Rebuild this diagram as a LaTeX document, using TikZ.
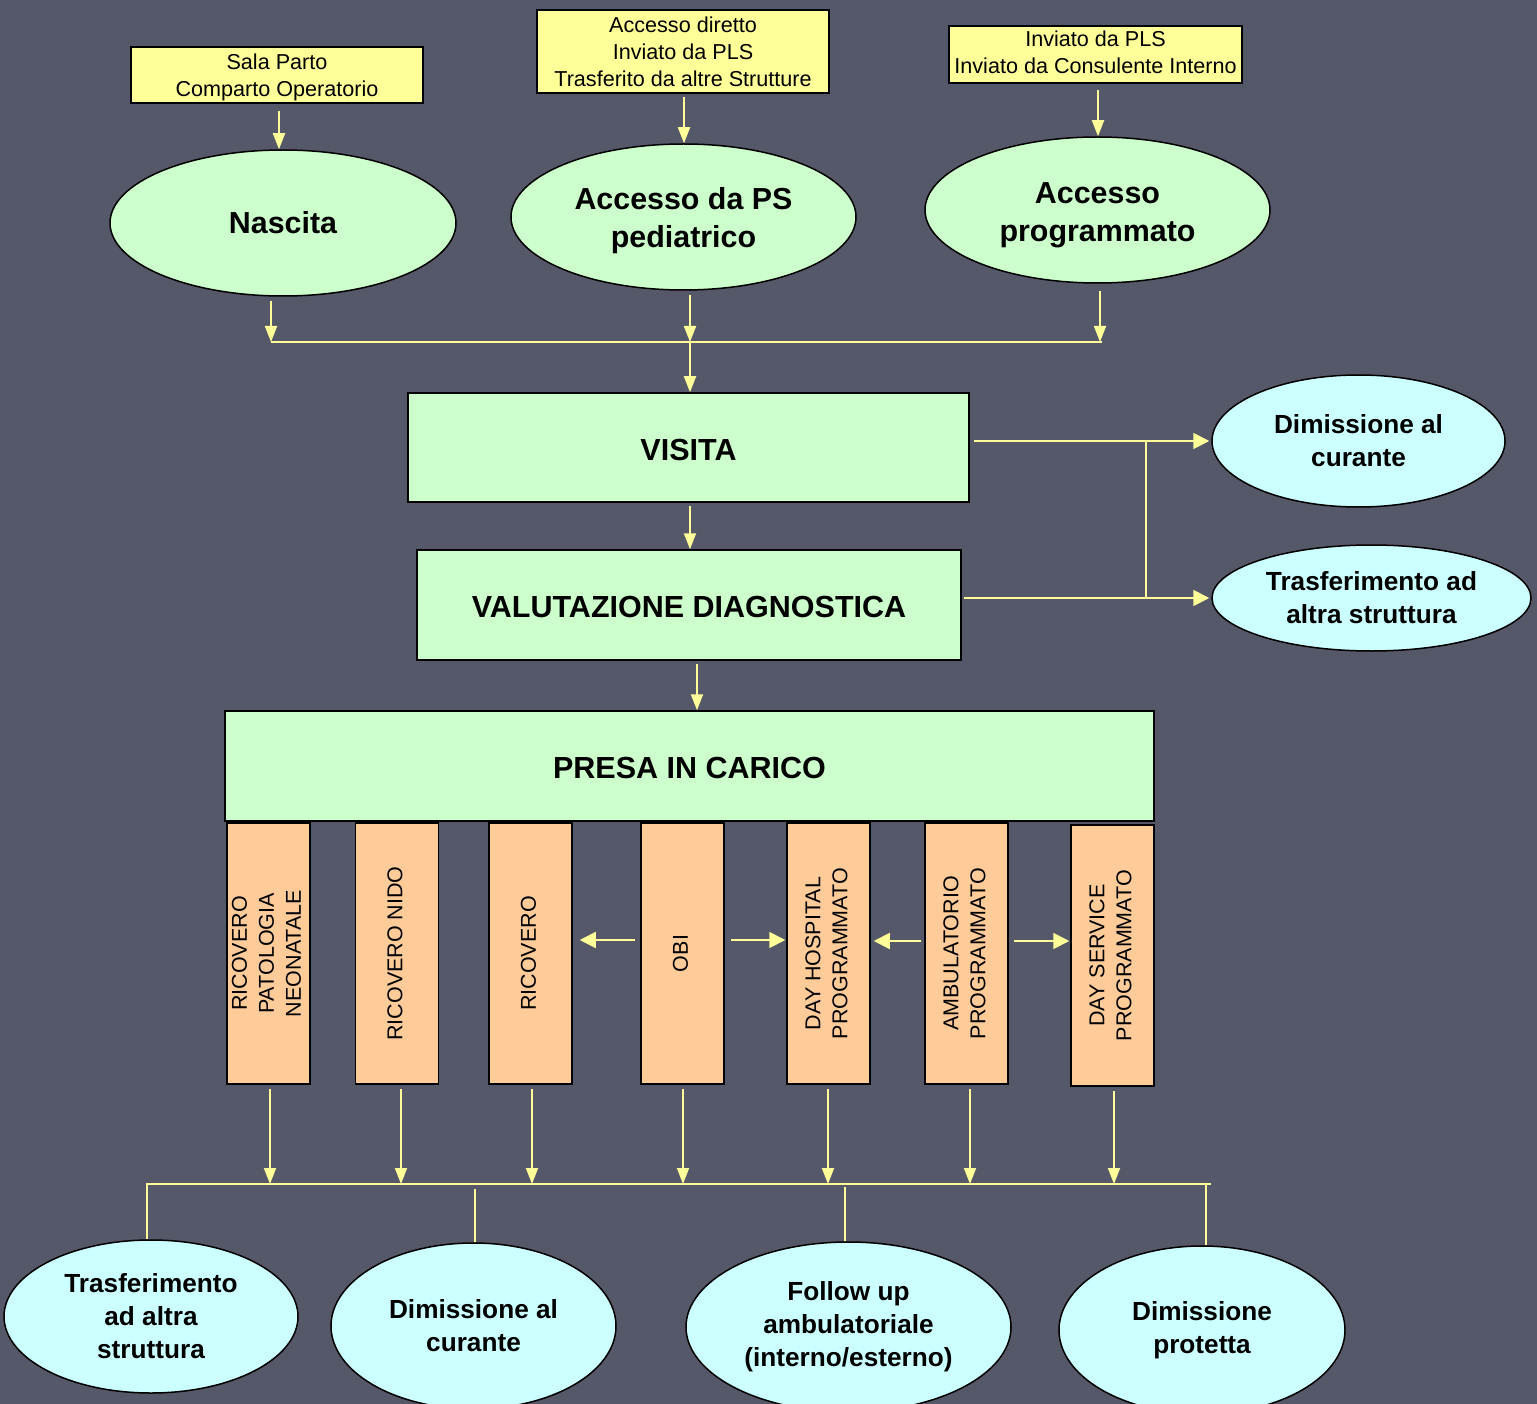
\documentclass[tikz,border=0pt]{standalone}
\usepackage{fontspec}
\usepackage{graphicx}
\setmainfont{Liberation Sans}
\usetikzlibrary{shapes.geometric,arrows.meta,calc}
\definecolor{bg}{RGB}{85,88,104}
\definecolor{srcyellow}{RGB}{255,255,153}
\definecolor{lineyellow}{RGB}{255,255,153}
\definecolor{palegreen}{RGB}{204,255,204}
\definecolor{palecyan}{RGB}{204,255,255}
\definecolor{peach}{RGB}{255,204,153}
\newcommand{\vlines}[1]{\rotatebox{90}{\begin{tabular}{@{}c@{}}#1\end{tabular}}}
\newcommand{\toppad}[1]{\rule{0pt}{#1pt}}
\begin{document}
\begin{tikzpicture}[x=1pt,y=-1pt,
  src/.style={rectangle,draw=black,line width=1.5pt,fill=srcyellow,inner sep=0pt,
    align=center,font=\fontsize{21.6}{27}\selectfont},
  entry/.style={ellipse,draw=black,line width=1.5pt,fill=palegreen,inner sep=0pt,
    align=center,font=\fontsize{30.4}{38}\selectfont\bfseries},
  stage/.style={rectangle,draw=black,line width=1.5pt,fill=palegreen,inner sep=0pt,
    align=center,font=\fontsize{30.5}{36}\selectfont\bfseries},
  outcome/.style={ellipse,draw=black,line width=1.5pt,fill=palecyan,inner sep=0pt,
    align=center,font=\fontsize{26.2}{33}\selectfont\bfseries},
  unit/.style={rectangle,draw=black,line width=1.5pt,fill=peach,inner sep=0pt,
    minimum width=83pt,minimum height=261pt,font=\fontsize{21.5}{27}\selectfont},
  link/.style={draw=lineyellow,line width=1.8pt},
  arr/.style={link,-{Triangle[length=16pt,width=12pt]}},
  harr/.style={link,-{Triangle[length=16pt,width=16pt]}}
]
% canvas
\useasboundingbox (0,0) rectangle (1537,1404);
\clip (0,0) rectangle (1537,1404);
\fill[bg] (0,0) rectangle (1537,1404);

% sources
\node[src,minimum width=292pt,minimum height=56pt] (s1) at (277,75)
  {\toppad{20}Sala Parto\\Comparto Operatorio};
\node[src,minimum width=292pt,minimum height=83pt] (s2) at (683,51.5)
  {Accesso diretto\\Inviato da PLS\\Trasferito da altre Strutture};
\node[src,minimum width=293pt,minimum height=57pt] (s3) at (1095.5,54.5)
  {Inviato da PLS\\Inviato da Consulente Interno\rule[-4.5pt]{0pt}{0pt}};

% entry points
\node[entry,minimum width=346pt,minimum height=146pt] (e1) at (283,223) {Nascita};
\node[entry,minimum width=345pt,minimum height=146pt] (e2) at (683.5,217)
  {\toppad{30}Accesso da PS\\pediatrico};
\node[entry,minimum width=345pt,minimum height=146pt] (e3) at (1097.5,210)
  {\toppad{32}Accesso\\programmato};

% main stages
\node[stage,minimum width=561pt,minimum height=109pt] (visita) at (688.5,447.5)
  {\toppad{27}VISITA};
\node[stage,minimum width=544pt,minimum height=110pt] (valut) at (689,605)
  {\toppad{26}VALUTAZIONE DIAGNOSTICA};
\node[stage,minimum width=929pt,minimum height=110pt] (presa) at (689.5,766)
  {\toppad{26}PRESA IN CARICO};

% early outcomes
\node[outcome,minimum width=293pt,minimum height=132pt] (dim1) at (1358.5,441)
  {Dimissione al\\curante};
\node[outcome,minimum width=319pt,minimum height=106pt] (tr1) at (1371.5,598)
  {Trasferimento ad\\altra struttura};

% care settings
\node[unit] (o1) at (268.5,953.5) {\vlines{RICOVERO\\PATOLOGIA\\NEONATALE}};
\node[unit] (o2) at (397,953.5) {\vlines{RICOVERO NIDO}};
\node[unit] (o3) at (530.5,953.5) {\vlines{RICOVERO}};
\node[unit] (o4) at (682.5,953.5) {\vlines{OBI}};
\node[unit] (o5) at (828.5,953.5) {\vlines{DAY HOSPITAL\\PROGRAMMATO}};
\node[unit] (o6) at (966.5,953.5) {\vlines{AMBULATORIO\\PROGRAMMATO}};
\node[unit] (o7) at (1112.5,955.5) {\vlines{DAY SERVICE\\PROGRAMMATO}};

% final outcomes
\node[outcome,minimum width=294pt,minimum height=153pt] (f1) at (151,1316.5)
  {Trasferimento\\ad altra\\struttura};
\node[outcome,minimum width=285pt,minimum height=166pt] (f2) at (473.5,1326)
  {Dimissione al\\curante};
\node[outcome,minimum width=325pt,minimum height=170pt] (f3) at (848.5,1327)
  {Follow up\\ambulatoriale\\(interno/esterno)};
\node[outcome,minimum width=286pt,minimum height=168pt] (f4) at (1202,1330)
  {Dimissione\\protetta};

% junction points
\coordinate (jt) at (690,342);
\coordinate (jr1) at (1146,442);
\coordinate (jr2) at (1146,599);
\coordinate (jb) at (0,1184);
\coordinate (jm) at (0,940);

% sources to entry points
\draw[arr] ([xshift=2pt,yshift=-7pt]s1.south) -- ([xshift=2pt]s1.south |- e1.north);
\draw[arr] ([xshift=1pt,yshift=-3pt]s2.south) -- ([xshift=1pt]s2.south |- e2.north);
\draw[arr] ([xshift=2.5pt,yshift=-6pt]s3.south) -- ([xshift=2.5pt]s3.south |- e3.north);

% entry points to the collector
\draw[arr] ([shift={(-12,4)}]e1.south) -- ([xshift=-12pt]e1.south |- jt);
\draw[arr] ([shift={(6.5,4)}]e2.south) -- ([xshift=6.5pt]e2.south |- jt);
\draw[arr] ([shift={(2.5,7)}]e3.south) -- ([xshift=2.5pt]e3.south |- jt);
\draw[link] ([xshift=-12pt]e1.south |- jt) -- ([xshift=4.5pt]e3.south |- jt);
\draw[arr] (jt) -- (jt |- visita.north);

% main chain
\draw[arr] ([shift={(1.5,3)}]visita.south) -- ([xshift=1.5pt]visita.south |- valut.north);
\draw[arr] ([shift={(8,3)}]valut.south) -- ([xshift=8pt]valut.south |- presa.north);

% exits from VISITA and VALUTAZIONE
\draw[harr] ([xshift=4pt]visita.east |- dim1.west) -- ([xshift=-2pt]dim1.west);
\draw[harr] ([xshift=2pt]valut.east |- tr1.west) -- ([xshift=-2pt]tr1.west);
\draw[link] (jr1) -- (jr2);

% links between care settings
\draw[harr] ([xshift=-5pt]o4.west |- jm) -- ([xshift=7pt]o3.east |- jm);
\draw[harr] ([xshift=6pt]o4.east |- jm) -- ([xshift=-1pt]o5.west |- jm);
\draw[harr] ([shift={(-3,1)}]o6.west |- jm) -- ([shift={(3,1)}]o5.east |- jm);
\draw[harr] ([shift={(5,1)}]o6.east |- jm) -- ([shift={(-1,1)}]o7.west |- jm);

% care settings to the bottom collector
\foreach \n/\dx in {o1/1.5,o2/4,o3/1.5,o4/0.5,o5/-0.5,o6/3.5,o7/1.5}
  \draw[arr] ([shift={(\dx,4)}]\n.south) -- ([xshift=\dx pt]\n.south |- jb);
\draw[link] (146,1184) -- (1211,1184);

% bottom collector to final outcomes
\draw[link] ([xshift=-4pt]f1.north |- jb) -- ([xshift=-4pt]f1.north);
\draw[link] ([shift={(1.5,5)}]f2.north |- jb) -- ([xshift=1.5pt]f2.north);
\draw[link] ([shift={(-3.5,3)}]f3.north |- jb) -- ([xshift=-3.5pt]f3.north);
\draw[link] ([xshift=4pt]f4.north |- jb) -- ([xshift=4pt]f4.north);
\end{tikzpicture}
\end{document}
